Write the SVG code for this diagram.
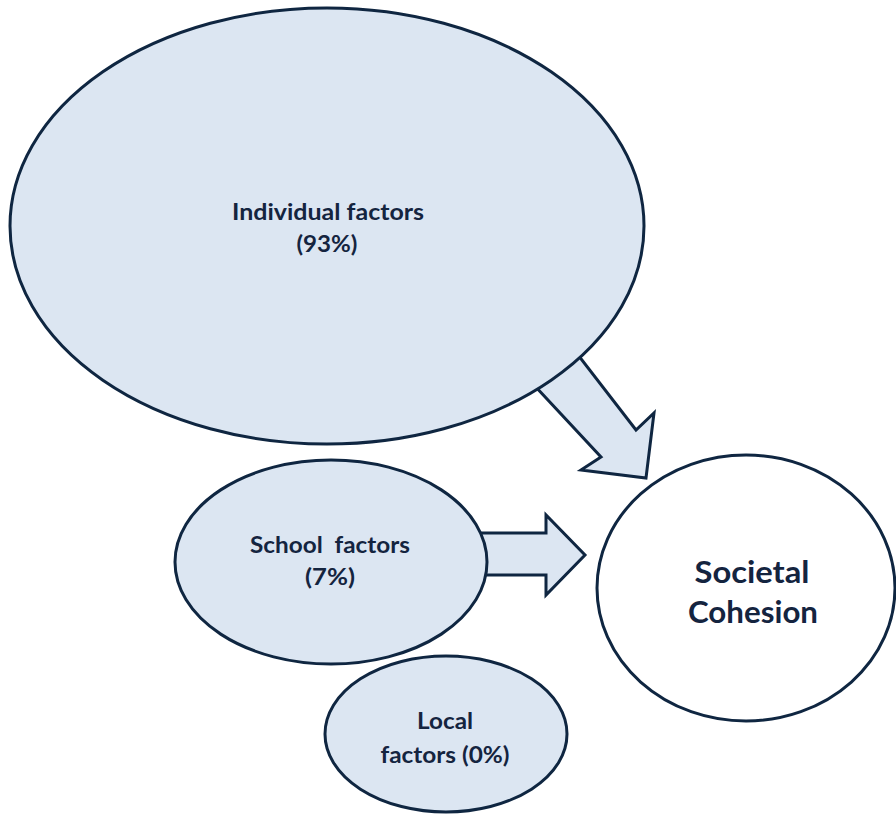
<svg xmlns="http://www.w3.org/2000/svg" width="896" height="815" viewBox="0 0 896 815">
<style>
.n{fill:#dce6f2;stroke:#0f2641;stroke-width:3}
.w{fill:#ffffff;stroke:#0f2641;stroke-width:3}
.a{fill:#dce6f2;stroke:#0f2641;stroke-width:3;stroke-linejoin:miter}
text{font-family:Lato,"Open Sans","Liberation Sans",sans-serif;font-weight:bold;fill:#14243f;text-anchor:middle}
.t{font-size:22px}
.b{font-size:31px}
</style>
<rect width="896" height="815" fill="#ffffff"/>
<g id="connectors">
<polygon class="a" points="520,370 565,338 636,430 654,413 646,478 581,470 601,457"/>
<polygon class="a" points="470,533 546,533 546,515 585,555 546,595 546,575 470,575"/>
</g>
<g id="individual">
<ellipse class="n" cx="327" cy="226" rx="317" ry="218"/>
<text class="t" x="328" y="220" textLength="192" lengthAdjust="spacingAndGlyphs">Individual factors</text>
<text class="t" x="327" y="252" textLength="61" lengthAdjust="spacingAndGlyphs">(93%)</text>
</g>
<g id="school">
<ellipse class="n" cx="331" cy="562" rx="156" ry="102"/>
<text class="t" x="330" y="553" xml:space="preserve" textLength="160" lengthAdjust="spacingAndGlyphs">School  factors</text>
<text class="t" x="330" y="585" textLength="50" lengthAdjust="spacingAndGlyphs">(7%)</text>
</g>
<g id="local">
<ellipse class="n" cx="446" cy="734" rx="121" ry="78"/>
<text class="t" x="445" y="729" textLength="56" lengthAdjust="spacingAndGlyphs">Local</text>
<text class="t" x="445" y="763" textLength="129" lengthAdjust="spacingAndGlyphs">factors (0%)</text>
</g>
<g id="societal">
<ellipse class="w" cx="746" cy="588" rx="149" ry="133"/>
<text class="b" x="752" y="583" textLength="115" lengthAdjust="spacingAndGlyphs">Societal</text>
<text class="b" x="753" y="623" textLength="130" lengthAdjust="spacingAndGlyphs">Cohesion</text>
</g>
</svg>
